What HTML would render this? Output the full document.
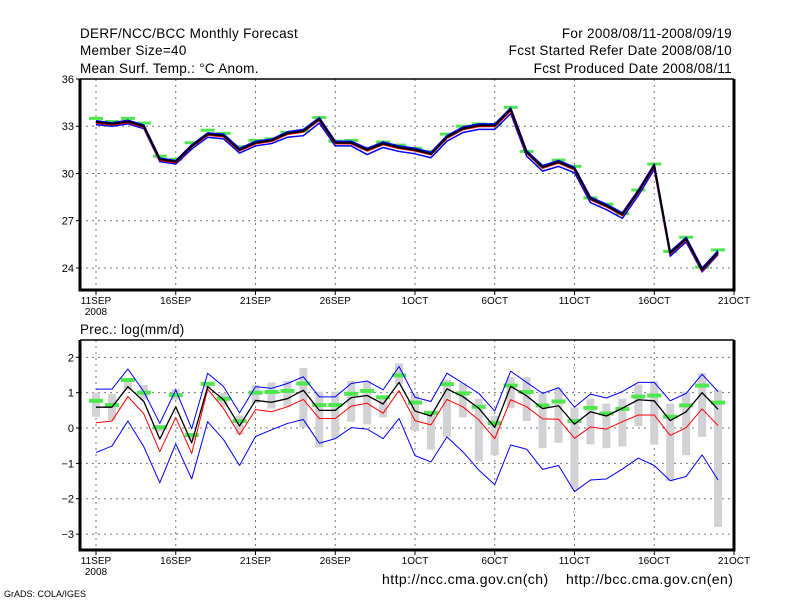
<!DOCTYPE html>
<html><head><meta charset="utf-8"><style>
html,body{margin:0;padding:0;background:#fff;}
svg{display:block;font-family:"Liberation Sans",sans-serif;}
</style></head><body>
<svg id="chart" width="800" height="600" viewBox="0 0 800 600">
<g font-size="13.5" fill="#000" letter-spacing="0.3">
<text x="80" y="38">DERF/NCC/BCC Monthly Forecast</text>
<text x="80" y="55">Member Size=40</text>
<text x="80" y="73">Mean Surf. Temp.: °C Anom.</text>
<text x="732" y="38" text-anchor="end">For 2008/08/11-2008/09/19</text>
<text x="732" y="55" text-anchor="end">Fcst Started Refer Date 2008/08/10</text>
<text x="732" y="73" text-anchor="end">Fcst Produced Date 2008/08/11</text>
<text x="80" y="334">Prec.: log(mm/d)</text>
<text x="382" y="584" font-size="14" letter-spacing="0.45">http://ncc.cma.gov.cn(ch)</text>
<text x="566" y="584" font-size="14" letter-spacing="0.45">http://bcc.cma.gov.cn(en)</text>
<text x="4" y="597" font-size="9" letter-spacing="0">GrADS: COLA/IGES</text>
</g>
<g id="top"></g>
<g id="bot"></g>
</svg>
<script>
const xTickLabels=["11SEP","16SEP","21SEP","26SEP","1OCT","6OCT","11OCT","16OCT","21OCT"];
const xTickDays=[0,5,10,15,20,25,30,35,40];
const topYTicks=[24,27,30,33,36];
const botYTicks=[-3,-2,-1,0,1,2];
const tMean=[33.28,33.15,33.3,33.0,30.9,30.75,31.73,32.5,32.4,31.5,31.95,32.1,32.55,32.7,33.45,31.95,31.95,31.5,31.9,31.65,31.5,31.24,32.3,32.85,33.05,33.05,34.07,31.35,30.4,30.73,30.3,28.4,27.95,27.4,28.85,30.5,24.95,25.85,23.9,25.0];
const tRed=[33.22,33.1,33.25,32.95,30.85,30.7,31.7,32.45,32.35,31.45,31.9,32.05,32.5,32.65,33.4,31.9,31.9,31.45,31.85,31.6,31.45,31.2,32.25,32.8,33.0,33.0,34.0,31.3,30.35,30.68,30.25,28.35,27.9,27.35,28.8,30.45,24.9,25.8,23.85,24.95];
const tUpper=[33.35,33.22,33.38,33.08,30.98,30.82,31.82,32.58,32.5,31.6,32.05,32.18,32.65,32.8,33.55,32.05,32.05,31.6,32.0,31.75,31.6,31.35,32.4,32.95,33.15,33.15,34.17,31.45,30.5,30.83,30.4,28.5,28.05,27.5,28.95,30.6,25.05,25.95,24.0,25.1];
const tLower=[33.1,33.0,33.15,32.85,30.75,30.6,31.55,32.3,32.2,31.3,31.75,31.9,32.3,32.4,33.2,31.75,31.75,31.2,31.65,31.4,31.25,31.0,32.05,32.6,32.8,32.8,33.8,31.1,30.15,30.45,30.05,28.15,27.7,27.15,28.6,30.25,24.75,25.65,23.75,24.85];
const tObs=[33.5,33.3,33.5,33.2,31.1,30.9,31.95,32.75,32.55,31.7,32.1,32.2,32.6,32.7,33.55,32.05,32.1,31.6,32.0,31.8,31.6,31.4,32.5,33.0,33.15,33.1,34.2,31.4,30.5,30.85,30.45,28.45,28.05,27.45,28.95,30.6,25.05,25.95,24.05,25.15];
const pMean=[0.59,0.59,1.17,0.75,-0.31,0.6,-0.42,1.17,0.8,0.06,0.78,0.73,0.83,1.07,0.5,0.5,0.86,0.92,0.68,1.29,0.48,0.34,1.11,0.89,0.56,0.02,1.18,0.91,0.55,0.63,0.11,0.46,0.34,0.56,0.8,0.77,0.21,0.46,1.0,0.53];
const pRed=[0.15,0.2,0.89,0.4,-0.67,0.3,-0.72,1.1,0.55,-0.19,0.52,0.46,0.6,0.81,0.27,0.27,0.62,0.7,0.42,1.06,0.21,0.09,0.81,0.6,0.23,-0.3,0.8,0.6,0.26,0.25,-0.29,0.03,-0.03,0.18,0.37,0.37,-0.21,0.01,0.54,0.07];
const pUpper=[1.1,1.1,1.67,1.03,0.13,1.08,-0.02,1.55,1.17,0.43,1.17,1.12,1.26,1.45,0.88,0.88,1.26,1.33,1.08,1.74,0.87,0.75,1.55,1.27,0.98,0.48,1.61,1.29,0.98,1.14,0.59,0.96,0.85,1.03,1.29,1.29,0.77,0.98,1.52,1.03];
const pLower=[-0.69,-0.51,0.2,-0.53,-1.55,-0.45,-1.44,0.18,-0.33,-1.06,-0.24,-0.05,0.13,0.24,-0.43,-0.3,0.01,-0.03,-0.3,0.27,-0.78,-0.96,-0.25,-0.67,-1.19,-1.6,-0.48,-0.6,-1.17,-1.06,-1.8,-1.47,-1.44,-1.16,-0.85,-1.06,-1.49,-1.37,-0.76,-1.47];
const pObs=[0.77,0.65,1.36,1.0,0.02,0.93,-0.2,1.25,0.83,0.2,1.0,1.02,1.05,1.26,0.65,0.65,0.97,1.05,0.87,1.49,0.72,0.43,1.24,0.98,0.6,0.14,1.2,1.02,0.64,0.75,0.2,0.57,0.41,0.54,0.89,0.92,0.32,0.64,1.2,0.72];
const pBarTop=[1.0,0.97,1.4,1.22,0.08,1.1,-0.16,1.3,1.0,0.35,1.22,1.29,1.33,1.7,1.03,1.03,1.33,1.33,0.92,1.83,0.98,0.46,1.37,1.27,0.83,0.34,1.44,1.44,0.98,1.14,0.58,0.83,0.69,0.83,1.23,1.32,0.69,1.03,1.55,1.08];
const pBarBot=[0.32,0.22,1.07,0.8,-0.1,0.8,-0.33,1.14,0.6,-0.18,0.7,0.55,0.6,0.02,-0.55,-0.3,0.18,0.1,0.3,1.24,-0.08,-0.61,-0.25,0.3,-0.94,-0.77,0.56,0.2,-0.57,-0.42,-1.74,-0.46,-0.57,-0.52,0.05,-0.47,-1.49,-0.77,-0.25,-2.8];

const NS="http://www.w3.org/2000/svg";
const L=80,R=734;
const xDay=d=>96+d*15.95;
function mk(parent,tag,attrs){const e=document.createElementNS(NS,tag);for(const k in attrs)e.setAttribute(k,attrs[k]);parent.appendChild(e);return e;}
function panel(g,top,bot,ymin,ymax,yTicks,fmt){
  const y=v=>bot-(v-ymin)/(ymax-ymin)*(bot-top);
  yTicks.forEach(v=>{
    const ln=mk(g,'line',{x1:L,x2:R,y1:y(v),y2:y(v),stroke:'#777','stroke-dasharray':'2,4','stroke-width':1});
    
    
    const tk=mk(g,'line',{x1:L-4,x2:L,y1:y(v),y2:y(v),stroke:'#000'});
    
    
    const t=mk(g,'text',{x:L-6,y:y(v)+4,'text-anchor':'end','font-size':11});
    t.textContent=fmt(v);
    
    
  });
  xTickDays.forEach((d,i)=>{
    const ln=mk(g,'line',{x1:xDay(d),x2:xDay(d),y1:top,y2:bot,stroke:'#777','stroke-dasharray':'2,4','stroke-width':1});
    
    
    const tk=mk(g,'line',{x1:xDay(d),x2:xDay(d),y1:bot,y2:bot+5,stroke:'#000'});
    
    
    const t=mk(g,'text',{x:xDay(d),y:bot+14,'text-anchor':'middle','font-size':10});
    t.textContent=xTickLabels[i];
    
    
  });
  const yr=mk(g,'text',{x:xDay(0),y:bot+25,'text-anchor':'middle','font-size':10});
  yr.textContent='2008';
  
  
  return y;
}
function line(g,arr,y,color,w,name){
  const p=mk(g,'polyline',{points:arr.map((v,i)=>xDay(i)+','+y(v)).join(' '),fill:'none',stroke:color,'stroke-width':w,'stroke-linejoin':'round'});
  
  
}
function frame(g,top,bot){
  const f=mk(g,'path',{d:`M${L},${top} L${R},${top}`,stroke:'#000','stroke-width':1.5});
  
  
  const f2=mk(g,'path',{d:`M${L},${top} L${L},${bot} L${R},${bot} L${R},${top}`,fill:'none',stroke:'#000','stroke-width':3});
  
  
}
const gt=document.getElementById('top');
const yt=panel(gt,79,290,22.6,36,topYTicks,v=>String(v));
tObs.forEach((v,i)=>{
  const r=mk(gt,'rect',{x:xDay(i)-7,y:yt(v)-1.5,width:14,height:3,fill:'#4ee84e'});
  
  
});
line(gt,tLower,yt,'#0000ff',1.5,'lower-bound-line');
line(gt,tUpper,yt,'#0000ff',1.5,'upper-bound-line');
line(gt,tRed,yt,'#ff0000',2,'median-line');
line(gt,tMean,yt,'#000',2,'ensemble-mean-line');
frame(gt,79,290);
const gb=document.getElementById('bot');
const yb=panel(gb,340,550,-3.45,2.49,botYTicks,v=>v<0?'\u2212'+(-v):String(v));
pBarTop.forEach((v,i)=>{
  const r=mk(gb,'rect',{x:xDay(i)-4,y:yb(v),width:8,height:yb(pBarBot[i])-yb(v),fill:'#d2d2d6'});
  
  
});
pObs.forEach((v,i)=>{
  const r=mk(gb,'rect',{x:xDay(i)-7,y:yb(v)-2,width:14,height:4,fill:'#4ee84e'});
  
  
});
line(gb,pUpper,yb,'#0000ff',1,'upper-bound-line');
line(gb,pLower,yb,'#0000ff',1,'lower-bound-line');
line(gb,pRed,yb,'#ff0000',1,'median-line');
line(gb,pMean,yb,'#000',1.3,'ensemble-mean-line');
frame(gb,340,550);
</script>
</body></html>
